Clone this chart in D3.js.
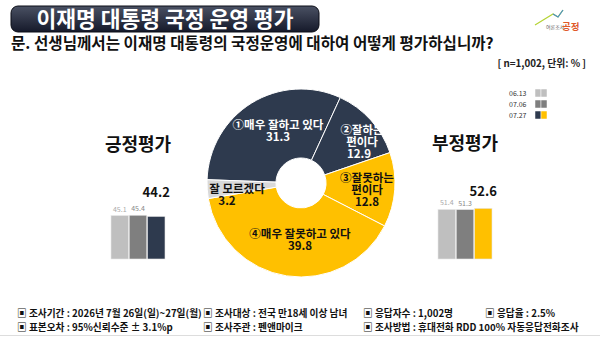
<!DOCTYPE html>
<html>
<head>
  <meta charset="utf-8">
  <script src="https://d3js.org/d3.v7.min.js"></script>
  <style>
    body { margin: 0; background: #fff; }
    text { font-family: "Noto Sans CJK KR", "Noto Sans", sans-serif; }
  </style>
</head>
<body>
<svg id="chart" width="600" height="337"></svg>
<script>
// donut slices (clockwise from 9 o'clock)
var sliceNames = ["①매우 잘하고 있다", "②잘하는 편이다", "③잘못하는 편이다", "④매우 잘못하고 있다", "잘 모르겠다"];
var sliceValues = [31.3, 12.9, 12.8, 39.8, 3.2];
var sliceColors = ["#2e3a4e", "#2e3a4e", "#ffc000", "#ffc000", "#d9d9d9"];

// trend bars
var surveyDates = ["06.13", "07.06", "07.27"];
var positiveValues = [45.1, 45.4, 44.2];
var negativeValues = [51.4, 51.3, 52.6];
var barColorsPos = ["#bfbfbf", "#7f7f7f", "#2e3a4e"];
var barColorsNeg = ["#bfbfbf", "#7f7f7f", "#ffc000"];

var footRows = [
  ["▣ 조사기간 : 2026년 7월 26일(일)~27일(월)", "▣ 조사대상 : 전국 만18세 이상 남녀", "▣ 응답자수 : 1,002명", "▣ 응답율 : 2.5%"],
  ["▣ 표본오차 : 95%신뢰수준 ± 3.1%p", "▣ 조사주관 : 펜앤마이크", "▣ 조사방법 : 휴대전화 RDD 100% 자동응답전화조사", ""]
];

var svg = d3.select("#chart");

// title bar
var grad = svg.append("defs").append("linearGradient").attr("id", "tg")
    .attr("x1", 0).attr("y1", 0).attr("x2", 0).attr("y2", 1);
grad.append("stop").attr("offset", "0%").attr("stop-color", "#4a5163");
grad.append("stop").attr("offset", "100%").attr("stop-color", "#15192a");
svg.append("rect").attr("x", 11).attr("y", 6).attr("width", 308).attr("height", 26)
    .attr("rx", 7).attr("fill", "url(#tg)").attr("stroke", "#0b0d16").attr("stroke-width", 1);
svg.append("text").attr("x", 165).attr("y", 27).attr("text-anchor", "middle")
    .attr("font-size", 21.5).attr("font-weight", 700).attr("fill", "#fff")
    .text("이재명 대통령 국정 운영 평가");

// logo
svg.append("path").attr("d", "M535,25 L553,14 L558,17 L563,10")
    .attr("fill", "none").attr("stroke", "#b5d334").attr("stroke-width", 1.2);
svg.append("path").attr("d", "M553,14 L558,17 L563,10").attr("fill", "none")
    .attr("stroke", "#4a90c8").attr("stroke-width", 1.2);
svg.append("text").attr("x", 546).attr("y", 29).attr("font-size", 5).attr("fill", "#666").text("여론조사");
svg.append("text").attr("x", 562).attr("y", 30).attr("font-size", 9.5).attr("font-weight", 700)
    .attr("fill", "#e05a2a").text("공정");

// question
svg.append("text").attr("x", 11).attr("y", 49).attr("font-size", 15.6).attr("font-weight", 700)
    .attr("fill", "#111").text("문. 선생님께서는 이재명 대통령의 국정운영에 대하여 어떻게 평가하십니까?");
svg.append("text").attr("x", 586).attr("y", 67).attr("text-anchor", "end").attr("font-size", 9.8)
    .attr("font-weight", 600).attr("fill", "#222").text("[ n=1,002, 단위: % ]");

// legend
var legend = svg.append("g");
surveyDates.forEach(function(d, i) {
  var y = 89 + i * 11;
  legend.append("text").attr("x", 509).attr("y", y + 7).attr("font-size", 7).attr("fill", "#333").text(d);
  legend.append("rect").attr("x", 535).attr("y", y).attr("width", 6).attr("height", 8)
      .attr("fill", barColorsPos[i]).attr("stroke", "#fff").attr("stroke-width", 0.5);
  legend.append("rect").attr("x", 541).attr("y", y).attr("width", 6).attr("height", 8)
      .attr("fill", barColorsNeg[i]).attr("stroke", "#fff").attr("stroke-width", 0.5);
});

// donut
var cx = 301, cy = 183;
var a0 = -88 * Math.PI / 180;
var pie = d3.pie().sort(null).startAngle(a0).endAngle(a0 + 2 * Math.PI);
var arc = d3.arc().innerRadius(25).outerRadius(94);
var arcs = pie(sliceValues);
var donut = svg.append("g").attr("transform", "translate(" + cx + "," + cy + ")");
donut.selectAll("path").data(arcs).enter().append("path")
    .attr("d", arc).attr("fill", function(d, i) { return sliceColors[i]; })
    .attr("stroke", "#fff").attr("stroke-width", 1);

// donut labels: name lines + value, centred around offsets from the hole centre
var nameLines = [["①매우 잘하고 있다"], ["②잘하는", "편이다"], ["③잘못하는", "편이다"], ["④매우 잘못하고 있다"], ["잘 모르겠다"]];
var labelPos = [[-23, -52], [61, -41], [66, 7], [-1, 57], [-64, 12]];
var valueShift = [0, -3, 0, 0, -10];
var labelColor = ["#fff", "#fff", "#111", "#111", "#111"];
nameLines.forEach(function(lines, i) {
  var all = lines.concat([sliceValues[i].toFixed(1)]);
  var t = donut.append("text").attr("text-anchor", "middle").attr("font-size", 11.5)
      .attr("font-weight", 700).attr("fill", labelColor[i]);
  var n = all.length;
  all.forEach(function(s, j) {
    var dx = j === n - 1 ? valueShift[i] : 0;
    t.append("tspan").attr("x", labelPos[i][0] + dx)
        .attr("y", labelPos[i][1] + (j - (n - 1) / 2) * 12 + 4).text(s);
  });
});

// bar groups
var yScale = d3.scaleLinear().domain([0, 55]).range([259, 206]);
function barGroup(x0, title, values, colors, titleY, gap) {
  var xScale = d3.scaleBand().domain(surveyDates).range([x0, x0 + 54]).paddingInner(0.04);
  var g = svg.append("g");
  g.append("text").attr("x", x0 + 27).attr("y", titleY).attr("text-anchor", "middle")
      .attr("font-size", 18).attr("font-weight", 700).attr("fill", "#111").text(title);
  g.selectAll("rect").data(values).enter().append("rect")
      .attr("x", function(d, i) { return xScale(surveyDates[i]); })
      .attr("y", function(d) { return yScale(d); })
      .attr("width", xScale.bandwidth())
      .attr("height", function(d) { return yScale(0) - yScale(d); })
      .attr("fill", function(d, i) { return colors[i]; })
      .attr("stroke", "#e8e8e8").attr("stroke-width", 0.6);
  g.selectAll("text.v").data(values).enter().append("text").attr("class", "v")
      .attr("x", function(d, i) { return xScale(surveyDates[i]) + xScale.bandwidth() / 2; })
      .attr("y", function(d, i) { return i < 2 ? yScale(d) - 4 : yScale(d) - gap; })
      .attr("text-anchor", "middle")
      .attr("font-size", function(d, i) { return i < 2 ? 7 : 13; })
      .attr("font-weight", function(d, i) { return i < 2 ? 400 : 700; })
      .attr("fill", function(d, i) { return i === 0 ? "#aaa" : i === 1 ? "#888" : "#111"; })
      .text(function(d) { return d.toFixed(1); });
}
barGroup(111, "긍정평가", positiveValues, barColorsPos, 151, 19);
barGroup(438, "부정평가", negativeValues, barColorsNeg, 150, 12);

// footer
var cols = [17, 203, 363, 485];
footRows.forEach(function(row, r) {
  row.forEach(function(s, c) {
    svg.append("text").attr("x", cols[c]).attr("y", 317 + r * 14).attr("font-size", 9.7)
        .attr("font-weight", 600).attr("fill", "#111").text(s);
  });
});
svg.append("line").attr("x1", 0).attr("x2", 600).attr("y1", 335.5).attr("y2", 335.5)
    .attr("stroke", "#ddd");
</script>
</body>
</html>
